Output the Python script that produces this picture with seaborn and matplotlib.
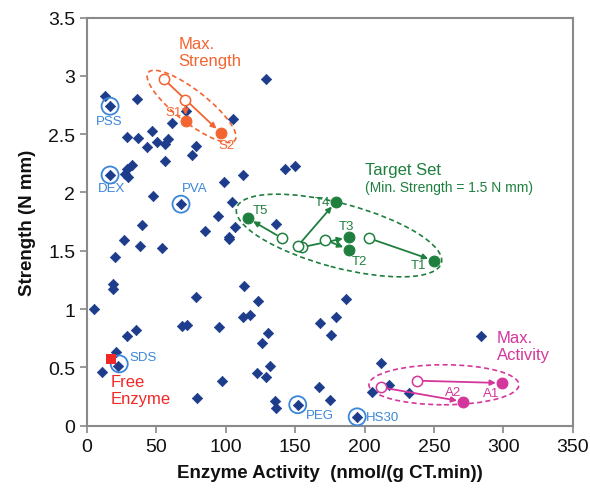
import numpy as np
import pandas as pd
import matplotlib
matplotlib.use('Agg')
import matplotlib.pyplot as plt
import seaborn as sns
from matplotlib.patches import Ellipse
from matplotlib.transforms import ScaledTranslation

# ---- data ----
# all other formulations (blue diamonds)
act = [5, 13, 16.6, 36, 61.2, 29, 36.5, 46.6, 43.4, 50.2, 56.2, 58.5, 78.8, 75.4, 56.2,
       32.2, 28.6, 27.4, 29.3, 16.6, 47.3, 67.7, 71.5, 104.9, 128.7, 112, 98.9, 104.2,
       142.4, 149.8, 94.6, 85, 106.6, 102.5, 102.5, 136.1, 39.8, 26.6, 38.2, 54.3, 20.2,
       19, 19, 78.5, 68.2, 71.8, 28.6, 35, 21, 22.6, 10.6, 79, 97, 95.3, 112.8, 123.2,
       112.6, 117.4, 125.8, 130.6, 122.2, 131.8, 128.7, 135.4, 136.1, 151.8, 167.8, 175.6,
       179.5, 186.8, 167.3, 175.3, 194.6, 211.6, 217.5, 205.5, 232.1, 283.7]
strength = [1.00, 2.83, 2.74, 2.80, 2.60, 2.48, 2.47, 2.53, 2.39, 2.43, 2.42, 2.46, 2.40,
            2.32, 2.27, 2.24, 2.20, 2.16, 2.13, 2.15, 1.97, 1.90, 2.70, 2.63, 2.97, 2.15,
            2.09, 1.92, 2.20, 2.23, 1.80, 1.67, 1.70, 1.62, 1.60, 1.73, 1.72, 1.59, 1.54,
            1.52, 1.45, 1.215, 1.17, 1.106, 0.857, 0.86, 0.77, 0.82, 0.63, 0.51, 0.46,
            0.235, 0.386, 0.85, 1.20, 1.07, 0.93, 0.95, 0.71, 0.795, 0.45, 0.51, 0.42,
            0.21, 0.155, 0.18, 0.88, 0.78, 0.93, 1.087, 0.336, 0.217, 0.076, 0.54, 0.35,
            0.286, 0.279, 0.77]

# single additives (circled)
single_names = ['PSS', 'DEX', 'PVA', 'SDS', 'PEG', 'HS30']
single_act = [16.6, 16.6, 67.7, 23.2, 151.8, 194.6]
single_str = [2.74, 2.15, 1.90, 0.53, 0.18, 0.076]

free_act = [17.3]
free_str = [0.57]

# optimisation runs: start (open) -> result (filled)
s_names = ['S1', 'S2']
s_start_act = [70.6, 55.5]
s_start_str = [2.79, 2.97]
s_end_act = [71.3, 96.5]
s_end_str = [2.61, 2.51]

t_names = ['T1', 'T2', 'T3', 'T4', 'T5']
t_start_act = [203.3, 171.4, 154.6, 151.7, 140.2]
t_start_str = [1.607, 1.595, 1.53, 1.54, 1.61]
t_end_act = [250, 188.7, 188.7, 179.3, 115.7]
t_end_str = [1.415, 1.51, 1.616, 1.92, 1.78]

a_names = ['A1', 'A2']
a_start_act = [237.9, 211.6]
a_start_str = [0.386, 0.33]
a_end_act = [299, 271]
a_end_str = [0.366, 0.206]

NAVY = '#1d3c8c'
BLUE = '#3b86d8'
ORANGE = '#f26530'
GREEN = '#1f7f3f'
MAGENTA = '#d4369b'
RED = '#f02828'

sns.set_style('white')
plt.rcParams['font.family'] = ['Liberation Sans', 'DejaVu Sans']

fig, ax = plt.subplots(figsize=(5.9, 4.89), dpi=100)
fig.subplots_adjust(left=0.1475, right=0.971, top=0.962, bottom=0.1274)

df = pd.DataFrame({'act': act, 'strength': strength})
sns.scatterplot(data=df, x='act', y='strength', marker='D', s=28, color=NAVY,
                edgecolor=NAVY, linewidth=0.5, ax=ax, zorder=3)

# circled single additives
sns.scatterplot(x=single_act, y=single_str, marker='o', s=150, facecolor='none',
                edgecolor=BLUE, linewidth=1.3, ax=ax, zorder=4)
lab_pos = {'PSS': (15.9, 2.61, 'center'), 'DEX': (17.8, 2.036, 'center'),
           'PVA': (77.8, 2.036, 'center'), 'SDS': (30.5, 0.587, 'left'),
           'PEG': (157.5, 0.092, 'left'), 'HS30': (201, 0.072, 'left')}
for n in single_names:
    x, y, ha = lab_pos[n]
    ax.text(x, y, n, color=BLUE, fontsize=9.5, ha=ha, va='center')

# free enzyme
sns.scatterplot(x=free_act, y=free_str, marker='s', s=45, color=RED, edgecolor=RED,
                linewidth=0, ax=ax, zorder=5)
ax.text(17.1, 0.306, 'Free\nEnzyme', color=RED, fontsize=12, ha='left', va='center',
        linespacing=1.15)


def run_group(sx, sy, ex, ey, col):
    for x0, y0, x1, y1 in zip(sx, sy, ex, ey):
        ax.annotate('', xy=(x1, y1), xytext=(x0, y0),
                    arrowprops=dict(arrowstyle='-|>', color=col, lw=1.3,
                                    mutation_scale=8, shrinkA=4, shrinkB=4.5),
                    zorder=5)
    sns.scatterplot(x=sx, y=sy, marker='o', s=55, color='white', edgecolor=col,
                    linewidth=1.1, ax=ax, zorder=6)
    sns.scatterplot(x=ex, y=ey, marker='o', s=60, color=col, edgecolor=col,
                    linewidth=0.8, ax=ax, zorder=6)


def ring(cx, cy, w, h, ang, col):
    # ellipse sized in inches around a data-space centre
    tr = fig.dpi_scale_trans + ScaledTranslation(cx, cy, ax.transData)
    e = Ellipse((0, 0), w, h, angle=ang, fill=False, ls=(0, (3, 2)), lw=1.2,
                edgecolor=col, transform=tr, zorder=2)
    ax.add_patch(e)


run_group(s_start_act, s_start_str, s_end_act, s_end_str, ORANGE)
run_group(t_start_act, t_start_str, t_end_act, t_end_str, GREEN)
run_group(a_start_act, a_start_str, a_end_act, a_end_str, MAGENTA)

ring(75.3, 2.738, 1.10, 0.32, -38, ORANGE)
ring(181.5, 1.631, 2.12, 0.64, -15, GREEN)
ring(257.1, 0.351, 1.50, 0.40, 0, MAGENTA)

s_lab = [(62.1, 2.69), (100.6, 2.41)]
for n, (x, y) in zip(s_names, s_lab):
    ax.text(x, y, n, color=ORANGE, fontsize=9.5, ha='center', va='center')
t_lab = [(238.6, 1.378), (196.1, 1.415), (187, 1.71), (169.7, 1.916), (124.6, 1.85)]
for n, (x, y) in zip(t_names, t_lab):
    ax.text(x, y, n, color=GREEN, fontsize=9.5, ha='center', va='center')
a_lab = [(290.9, 0.278), (263.6, 0.292)]
for n, (x, y) in zip(a_names, a_lab):
    ax.text(x, y, n, color=MAGENTA, fontsize=9.5, ha='center', va='center')

ax.text(65.7, 3.205, 'Max.\nStrength', color=ORANGE, fontsize=12, ha='left',
        va='center', linespacing=1.2)
ax.text(200.6, 2.196, 'Target Set', color=GREEN, fontsize=12, ha='left', va='center')
ax.text(200.6, 2.045, '(Min. Strength = 1.5 N mm)', color=GREEN, fontsize=10,
        ha='left', va='center')
ax.text(295, 0.686, 'Max.\nActivity', color=MAGENTA, fontsize=12, ha='left',
        va='center', linespacing=1.2)

ax.set_xlim(0, 350)
ax.set_ylim(0, 3.5)
ax.set_xticks(np.arange(0, 351, 50))
ax.set_yticks(np.arange(0, 3.51, 0.5))
ax.set_yticklabels(['0', '0.5', '1', '1.5', '2', '2.5', '3', '3.5'])
ax.tick_params(axis='both', direction='out', length=5, width=1.2, color='#888888',
               labelsize=14, labelcolor='#111111', bottom=True, left=True)
for sp in ax.spines.values():
    sp.set_color('#8a8a8a')
    sp.set_linewidth(1.5)

ax.set_xlabel('Enzyme Activity  (nmol/(g CT.min))', fontsize=13.5, fontweight='bold',
              color='#111111', labelpad=7)
ax.set_ylabel('Strength (N mm)', fontsize=13.5, fontweight='bold', color='#111111',
              labelpad=9)

fig.savefig('out.png', dpi=100)
